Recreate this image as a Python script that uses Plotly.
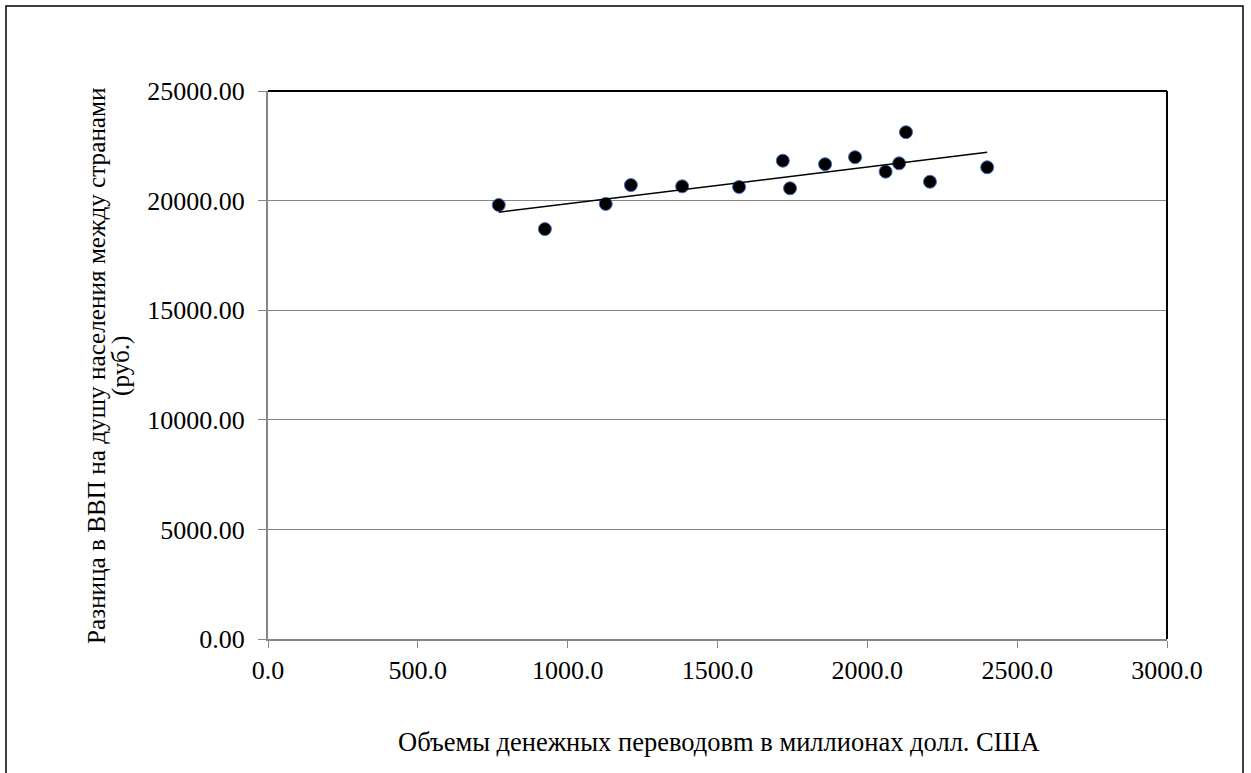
import numpy as np
import plotly.graph_objects as go

# Remittance volume (million USD) vs. per-capita GDP gap (rubles)
remittances = [770, 924, 1127, 1211, 1382, 1572, 1718, 1742, 1859, 1959, 2061, 2106, 2129, 2209, 2400]
gdp_gap = [19800, 18700, 19850, 20710, 20650, 20620, 21820, 20560, 21660, 21980, 21320, 21700, 23120, 20860, 21520]

x_title = "Объемы денежных переводовm в миллионах долл. США"
y_title_1 = "Разница в ВВП на душу населения между странами"
y_title_2 = "(руб.)"

W, H = 1251, 773
L, R, T, B = 268, 1167, 91, 639

def px_x(p):
    return (p - L) / (R - L)

def px_y(p):
    return (B - p) / (B - T)

# Linear trend (least squares) over the observed range
slope, intercept = np.polyfit(remittances, gdp_gap, 1)
tx = [min(remittances), max(remittances)]
ty = [slope * v + intercept for v in tx]

font = dict(family="Liberation Serif", size=26, color="black")
xtitle_font = dict(font, size=26.5)
ytitle_font = dict(font, size=25.2)

fig = go.Figure()
fig.add_trace(go.Scatter(
    x=remittances, y=gdp_gap, mode="markers",
    marker=dict(size=13, color="black", line=dict(color="#4472C4", width=1)),
    showlegend=False, hoverinfo="x+y",
))
fig.add_trace(go.Scatter(
    x=tx, y=ty, mode="lines", line=dict(color="black", width=1.5),
    showlegend=False, hoverinfo="skip",
))

fig.update_layout(
    width=W, height=H,
    margin=dict(l=L, r=W - R, t=T, b=H - B),
    paper_bgcolor="white", plot_bgcolor="white",
    font=font,
    xaxis=dict(
        range=[0, 3000], dtick=500, tick0=0, tickformat=".1f",
        showgrid=False, zeroline=False,
        showline=True, linecolor="#868686", linewidth=2,
        ticks="outside", ticklen=7, tickcolor="#868686", tickwidth=1,
        tickfont=font,
    ),
    yaxis=dict(
        range=[0, 25000], dtick=5000, tick0=0, tickformat=".2f",
        showgrid=True, gridcolor="#868686", gridwidth=1,
        zeroline=False,
        showline=True, linecolor="#868686", linewidth=2,
        ticks="outside", ticklen=8, tickcolor="#868686", tickwidth=1,
        ticklabelstandoff=8,
        tickfont=font,
    ),
    shapes=[
        # top and right frame of the plot area
        dict(type="line", xref="paper", yref="paper", x0=0, x1=1, y0=1, y1=1,
             line=dict(color="black", width=2)),
        dict(type="line", xref="paper", yref="paper", x0=1, x1=1, y0=0, y1=1,
             line=dict(color="black", width=2)),
        # outer chart border
        dict(type="rect", xref="paper", yref="paper",
             x0=px_x(6), x1=px_x(1243), y0=px_y(790), y1=px_y(6),
             line=dict(color="black", width=1.5), fillcolor="rgba(0,0,0,0)", layer="below"),
    ],
    annotations=[
        dict(text=x_title, xref="paper", yref="paper", x=px_x(719), y=px_y(742),
             showarrow=False, xanchor="center", yanchor="middle", font=xtitle_font),
        dict(text=y_title_1, xref="paper", yref="paper", x=px_x(96), y=px_y(366),
             showarrow=False, textangle=-90, xanchor="center", yanchor="middle", font=ytitle_font),
        dict(text=y_title_2, xref="paper", yref="paper", x=px_x(121), y=px_y(366),
             showarrow=False, textangle=-90, xanchor="center", yanchor="middle", font=ytitle_font),
    ],
)

fig.write_html("out.html")
